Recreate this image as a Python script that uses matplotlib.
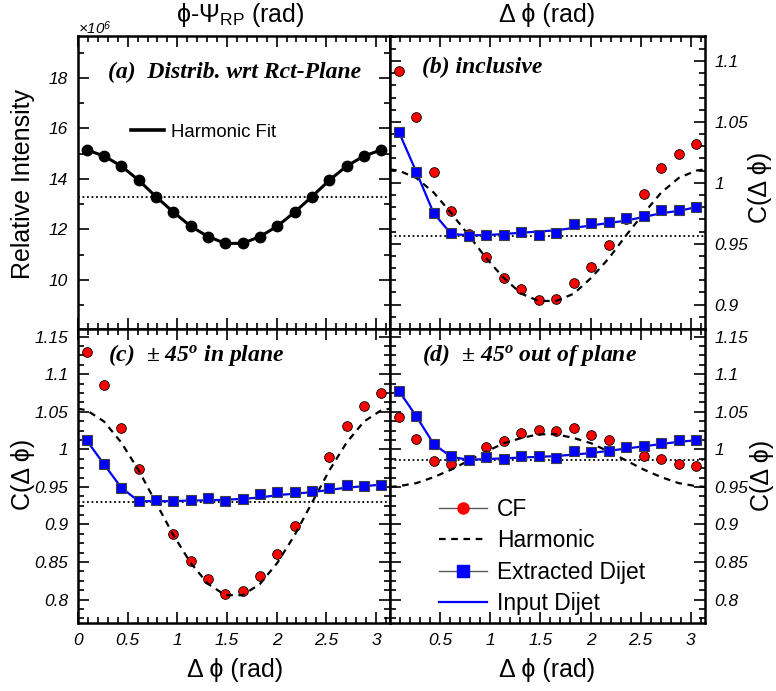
import numpy as np
import matplotlib
matplotlib.use('Agg')
import matplotlib.pyplot as plt
from matplotlib.lines import Line2D
from matplotlib.ticker import MultipleLocator, FormatStrFormatter

plt.rcParams['font.family'] = ['Liberation Sans', 'DejaVu Sans']
plt.rcParams['font.style'] = 'italic'
plt.rcParams['mathtext.fontset'] = 'custom'
plt.rcParams['mathtext.rm'] = 'Liberation Sans:roman'
plt.rcParams['mathtext.it'] = 'Liberation Serif:bold:italic'
plt.rcParams['mathtext.sf'] = 'Liberation Sans:italic'

# bin centres (rad) and harmonic curve sample points
dphi = [0.087, 0.262, 0.436, 0.611, 0.785, 0.960, 1.134, 1.309, 1.484,
        1.658, 1.833, 2.007, 2.182, 2.356, 2.531, 2.705, 2.880, 3.054]
harm_x = [0.0] + dphi + [3.1416]

# (a) distribution wrt reaction plane (x1e6)
a_int = [15.15, 14.91, 14.51, 13.95, 13.30, 12.69, 12.13, 11.72, 11.45,
         11.45, 11.72, 12.13, 12.69, 13.30, 13.95, 14.51, 14.91, 15.15]
a_mean = 13.30

# (b) inclusive
b_cf = [1.092, 1.054, 1.009, 0.977, 0.958, 0.939, 0.922, 0.913, 0.904,
        0.905, 0.918, 0.931, 0.949, 0.970, 0.991, 1.012, 1.024, 1.032]
b_dijet = [1.042, 1.009, 0.975, 0.959, 0.956, 0.957, 0.957, 0.960, 0.957,
           0.959, 0.966, 0.967, 0.968, 0.971, 0.973, 0.978, 0.978, 0.980]
b_input = [1.042, 1.009, 0.975, 0.958, 0.957, 0.957, 0.958, 0.959, 0.960,
           0.961, 0.963, 0.965, 0.967, 0.969, 0.972, 0.975, 0.977, 0.980]
b_harm = [1.011, 1.010, 1.004, 0.992, 0.975, 0.957, 0.938, 0.922, 0.909, 0.903,
          0.903, 0.909, 0.922, 0.938, 0.957, 0.975, 0.992, 1.004, 1.010, 1.011]
b_mean = 0.9566

# (c) +-45 deg in plane
c_cf = [1.129, 1.085, 1.028, 0.974, 0.932, 0.888, 0.851, 0.827, 0.808,
        0.811, 0.831, 0.861, 0.898, 0.944, 0.990, 1.031, 1.057, 1.075]
c_dijet = [1.012, 0.980, 0.949, 0.931, 0.932, 0.931, 0.932, 0.935, 0.931,
           0.934, 0.940, 0.943, 0.943, 0.944, 0.948, 0.952, 0.951, 0.953]
c_input = [1.012, 0.980, 0.949, 0.931, 0.931, 0.931, 0.932, 0.932, 0.933,
           0.934, 0.936, 0.939, 0.941, 0.943, 0.946, 0.949, 0.951, 0.953]
c_harm = [1.054, 1.052, 1.037, 1.009, 0.972, 0.929, 0.886, 0.849, 0.821, 0.806,
          0.806, 0.821, 0.849, 0.886, 0.929, 0.972, 1.009, 1.037, 1.052, 1.054]
c_mean = 0.930

# (d) +-45 deg out of plane
d_cf = [1.043, 1.014, 0.984, 0.981, 0.986, 1.003, 1.011, 1.022, 1.026,
        1.024, 1.028, 1.019, 1.012, 1.003, 0.991, 0.987, 0.981, 0.978]
d_dijet = [1.078, 1.044, 1.007, 0.991, 0.986, 0.990, 0.987, 0.991, 0.991,
           0.989, 0.998, 0.996, 0.998, 1.003, 1.004, 1.009, 1.012, 1.012]
d_input = [1.078, 1.044, 1.007, 0.990, 0.986, 0.987, 0.988, 0.989, 0.990,
           0.991, 0.993, 0.995, 0.998, 1.001, 1.004, 1.007, 1.010, 1.012]
d_harm = [0.950, 0.951, 0.955, 0.963, 0.973, 0.985, 0.997, 1.008, 1.015, 1.020,
          1.020, 1.015, 1.008, 0.997, 0.985, 0.973, 0.963, 0.955, 0.951, 0.950]
d_mean = 0.986

W, H = 776, 691
fig = plt.figure(figsize=(W / 100, H / 100), dpi=100)


def px_axes(x0, y0, x1, y1):
    return fig.add_axes([x0 / W, 1 - y1 / H, (x1 - x0) / W, (y1 - y0) / H])


def setup(ax, ylim, major, minor, right=False, xlabels=False):
    ax.set_xlim(0, np.pi)
    ax.set_ylim(*ylim)
    ax.xaxis.set_major_locator(MultipleLocator(0.5))
    ax.xaxis.set_minor_locator(MultipleLocator(0.1))
    ax.yaxis.set_major_locator(MultipleLocator(major))
    ax.yaxis.set_minor_locator(MultipleLocator(minor))
    ax.xaxis.set_major_formatter(FormatStrFormatter('%g'))
    ax.yaxis.set_major_formatter(FormatStrFormatter('%g'))
    ax.tick_params(which='both', direction='in', top=True, right=True, left=True, bottom=True,
                   width=1.2, labelsize=12.5, pad=7)
    ax.tick_params(which='major', length=8)
    ax.tick_params(which='minor', length=4)
    ax.tick_params(labelbottom=xlabels, labelleft=not right, labelright=right)
    for s in ax.spines.values():
        s.set_linewidth(1.8)


def panel(ax, cf, dijet, inp, harm, mean):
    ax.axhline(mean, color='black', ls=(0, (1, 1.5)), lw=1.3, zorder=1)
    ax.plot(dphi, cf, 'o', ms=7, mfc='red', mec='black', mew=0.6, zorder=2)
    ax.plot(harm_x, harm, color='black', ls=(0, (3, 2.5)), lw=1.6, zorder=3)
    ax.plot(dphi, inp, color='blue', lw=1.6, zorder=4)
    ax.plot(dphi, dijet, 's', ms=7, mfc='blue', mec='0.25', mew=0.8, zorder=5)


lab_font = dict(family='Liberation Serif', weight='bold', style='italic', size=17)

# (a)
axa = px_axes(78, 36, 390, 329)
axa.axhline(a_mean, color='black', ls=(0, (1, 1.5)), lw=1.3)
axa.plot(dphi, a_int, 'o-', color='black', lw=2.2, ms=7.5)
setup(axa, (8.06, 19.66), 2, 1)
axa.text(0.096, 0.877, '(a)  Distrib. wrt Rct-Plane', transform=axa.transAxes, va='center', **lab_font)
axa.legend(handles=[Line2D([], [], color='black', lw=2.6)], labels=['Harmonic Fit'],
           loc='center left', bbox_to_anchor=(0.17, 0.672), frameon=False, borderpad=0, borderaxespad=0,
           handlelength=1.75, handletextpad=0.4, prop={'size': 13.4, 'style': 'normal'})

# (b)
axb = px_axes(390, 36, 705, 329)
panel(axb, b_cf, b_dijet, b_input, b_harm, b_mean)
setup(axb, (0.880, 1.1205), 0.05, 0.01, right=True)
axb.text(0.10, 0.894, '(b) inclusive', transform=axb.transAxes, va='center', **lab_font)

# (c)
axc = px_axes(78, 329, 390, 623)
panel(axc, c_cf, c_dijet, c_input, c_harm, c_mean)
setup(axc, (0.769, 1.160), 0.05, 0.0125, xlabels=True)
axc.text(0.096, 0.912, '(c)  ± 45$^{o}$ in plane', transform=axc.transAxes, va='center', **lab_font)

# (d)
axd = px_axes(390, 329, 705, 623)
panel(axd, d_cf, d_dijet, d_input, d_harm, d_mean)
setup(axd, (0.769, 1.160), 0.05, 0.0125, right=True, xlabels=True)
axd.set_xticks([0.5, 1, 1.5, 2, 2.5, 3])
axd.set_xticklabels(['0.5', '1', '1.5', '2', '2.5', '3'])
axd.text(0.10, 0.912, '(d)  ± 45$^{o}$ out of plane', transform=axd.transAxes, va='center', **lab_font)
handles = [
    Line2D([], [], color='0.35', lw=1, marker='o', ms=8, mfc='red', mec='red'),
    Line2D([], [], color='black', lw=1.6, ls=(0, (3, 2.5))),
    Line2D([], [], color='0.35', lw=1, marker='s', ms=8, mfc='blue', mec='blue'),
    Line2D([], [], color='blue', lw=1.6),
]
axd.legend(handles=handles, labels=['CF', 'Harmonic', 'Extracted Dijet', 'Input Dijet'],
           loc='lower left', bbox_to_anchor=(0.155, 0.028), frameon=False, borderpad=0, borderaxespad=0,
           handlelength=2.1, handletextpad=0.45, labelspacing=0.36, prop={'size': 16.4, 'style': 'normal'})

# axis labels
big = dict(size=18, style='normal', ha='center', va='center')
fig.text(23 / W, 1 - 184 / H, 'Relative Intensity', rotation=90, **big)
fig.text(23 / W, 1 - 474 / H, 'C(Δ ϕ)', rotation=90, **big)
fig.text(760 / W, 1 - 187 / H, 'C(Δ ϕ)', rotation=90, **big)
fig.text(762 / W, 1 - 475 / H, 'C(Δ ϕ)', rotation=90, **big)
fig.text(240 / W, 1 - 15 / H, 'ϕ-Ψ$_{\\mathrm{RP}}$ (rad)', **big)
fig.text(547 / W, 1 - 15 / H, 'Δ ϕ (rad)', **big)
fig.text(235 / W, 1 - 670 / H, 'Δ ϕ (rad)', **big)
fig.text(547 / W, 1 - 670 / H, 'Δ ϕ (rad)', **big)
fig.text(78 / W, 1 - 28 / H, '×10$^{\\mathsf{6}}$', size=11, style='italic', ha='left', va='center')

fig.savefig('out.png', dpi=100)
